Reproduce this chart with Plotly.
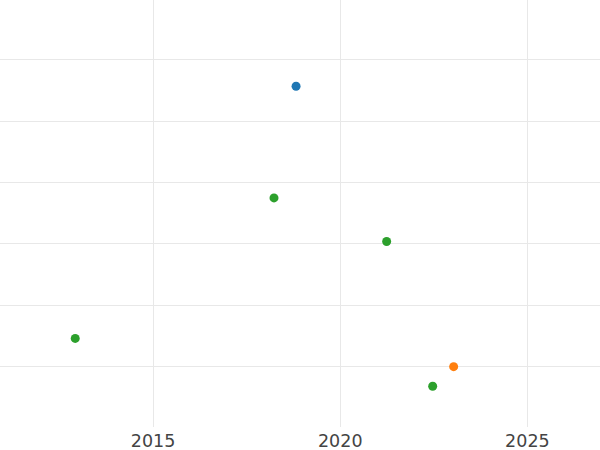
import plotly.graph_objects as go

# Data
series_names = ["A", "B", "C"]
a_x = [2018.82]
a_y = [5.57]
b_x = [2023.03]
b_y = [1.00]
c_x = [2012.92, 2018.23, 2021.24, 2022.47]
c_y = [1.46, 3.75, 3.04, 0.68]
colors = ["#1f77b4", "#ff7f0e", "#2ca02c"]
x_ticks = [2015, 2020, 2025]

fig = go.Figure()
for name, xs, ys, col in zip(series_names, [a_x, b_x, c_x], [a_y, b_y, c_y], colors):
    fig.add_trace(go.Scatter(x=xs, y=ys, mode="markers", name=name,
                             marker=dict(color=col, size=9, line=dict(width=0))))

fig.update_layout(
    width=600, height=450,
    margin=dict(l=0, r=0, t=0, b=23),
    paper_bgcolor="white", plot_bgcolor="white",
    showlegend=False,
    font=dict(family="DejaVu Sans", size=17.5, color="#444444"),
    xaxis=dict(range=[2010.91, 2026.94], tickvals=x_ticks, ticktext=[str(t) for t in x_ticks],
               showgrid=True, gridcolor="#e8e8e8", gridwidth=1, zeroline=False,
               showline=False, ticks="", ticklabelstandoff=1, automargin=False,
               tickfont=dict(size=17.5, color="#444444")),
    yaxis=dict(range=[0.016, 6.976], dtick=1, tick0=0, showgrid=True, gridcolor="#e8e8e8",
               gridwidth=1, zeroline=False, showline=False, showticklabels=False, ticks="",
               automargin=False),
)

fig.write_html("out.html", config={"displayModeBar": False},
               post_script="document.body.style.margin='0px'; document.body.style.overflow='hidden';")
